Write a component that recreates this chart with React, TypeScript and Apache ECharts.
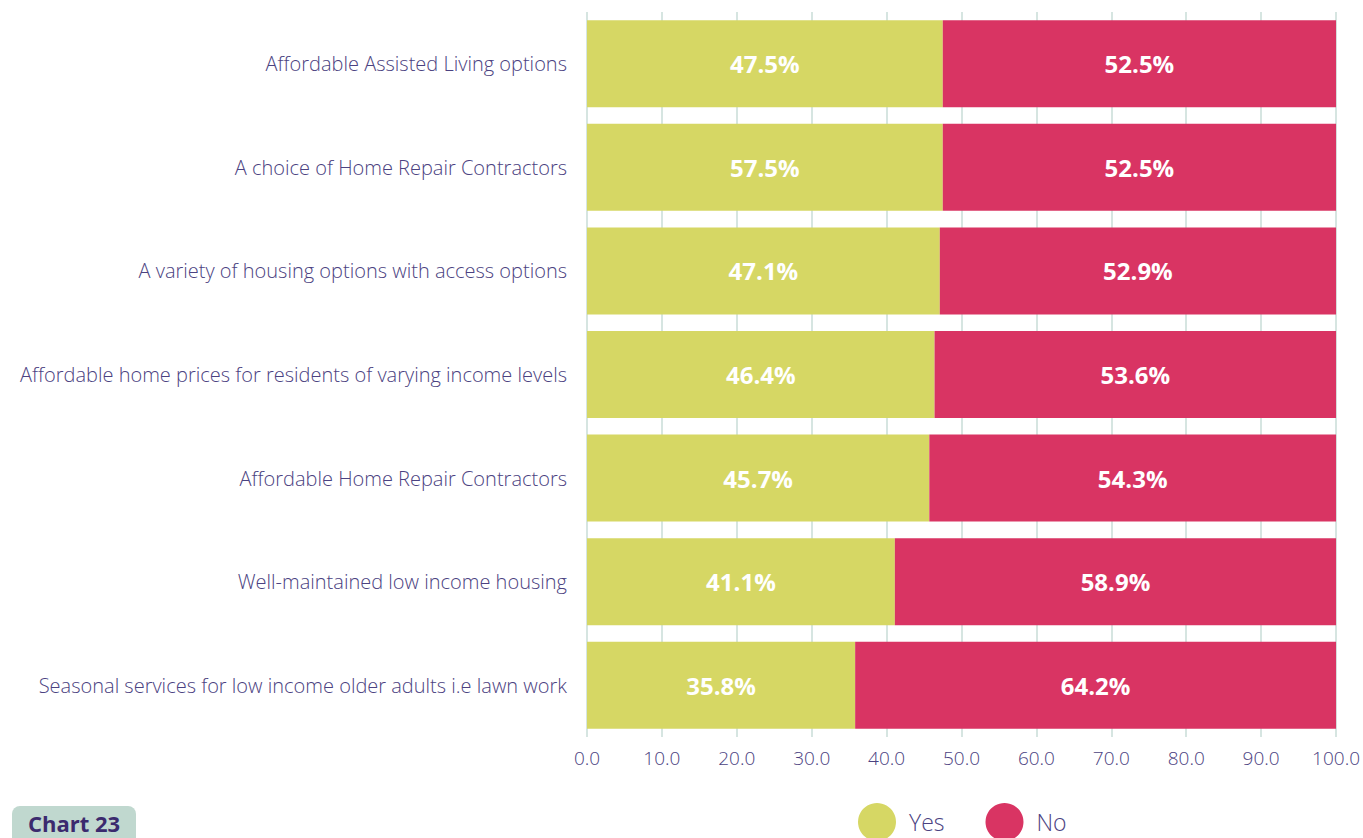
import React, { useEffect, useRef } from "react";
import * as echarts from "echarts";

const categories = [
  "Affordable Assisted Living options",
  "A choice of Home Repair Contractors",
  "A variety of housing options with access options",
  "Affordable home prices for residents of varying income levels",
  "Affordable Home Repair Contractors",
  "Well-maintained low income housing",
  "Seasonal services for low income older adults i.e lawn work",
];
const yesValues = [47.5, 47.5, 47.1, 46.4, 45.7, 41.1, 35.8];
const noValues = [52.5, 52.5, 52.9, 53.6, 54.3, 58.9, 64.2];
const yesLabels = ["47.5%", "57.5%", "47.1%", "46.4%", "45.7%", "41.1%", "35.8%"];
const noLabels = ["52.5%", "52.5%", "52.9%", "53.6%", "54.3%", "58.9%", "64.2%"];
const xTicks = [0, 10, 20, 30, 40, 50, 60, 70, 80, 90, 100];

const TEXT = "#4b4281";
const FONT = "'Open Sans', 'Noto Sans', sans-serif";

export default function App() {
  const ref = useRef<HTMLDivElement>(null);
  useEffect(() => {
    if (!ref.current) return;
    const chart = echarts.init(ref.current, undefined, { renderer: "svg" });
    chart.setOption({
      animation: false,
      textStyle: { fontFamily: FONT },
      grid: { left: 587, right: 22, top: 12, bottom: 101, containLabel: false },
      legend: {
        data: ["Yes", "No"],
        left: 858,
        top: 803,
        padding: 0,
        icon: "circle",
        itemWidth: 38,
        itemHeight: 38,
        itemGap: 41,
        textStyle: {
          color: TEXT,
          fontSize: 23,
          lineHeight: 22,
          fontWeight: 300,
          fontFamily: FONT,
          padding: [0, 0, 0, 8],
        },
      },
      xAxis: {
        type: "value",
        min: 0,
        max: xTicks[xTicks.length - 1],
        interval: 10,
        axisLine: { show: false },
        axisTick: { show: false },
        splitLine: { show: true, lineStyle: { color: "#c8dcd7", width: 1.5 } },
        axisLabel: {
          color: TEXT,
          fontSize: 19,
          fontWeight: 300,
          fontFamily: FONT,
          margin: 11,
          formatter: (v: number) => v.toFixed(1),
        },
      },
      yAxis: {
        type: "category",
        inverse: true,
        data: categories,
        axisLine: { show: false },
        axisTick: { show: false },
        axisLabel: { color: TEXT, fontSize: 20, fontWeight: 300, fontFamily: FONT, margin: 20 },
      },
      series: [
        {
          name: "Yes",
          type: "bar",
          stack: "total",
          data: yesValues,
          barCategoryGap: "16%",
          itemStyle: { color: "#d6d764" },
          label: {
            show: true,
            position: "inside",
            color: "#ffffff",
            fontSize: 24,
            fontWeight: "bold",
            fontFamily: FONT,
            formatter: (p: any) => yesLabels[p.dataIndex],
          },
        },
        {
          name: "No",
          type: "bar",
          stack: "total",
          data: noValues,
          barCategoryGap: "16%",
          itemStyle: { color: "#d93463" },
          label: {
            show: true,
            position: "inside",
            color: "#ffffff",
            fontSize: 24,
            fontWeight: "bold",
            fontFamily: FONT,
            formatter: (p: any) => noLabels[p.dataIndex],
          },
        },
      ],
      graphic: [
        {
          type: "group",
          left: 12,
          top: 806,
          children: [
            {
              type: "rect",
              shape: { x: 0, y: 0, width: 124, height: 44, r: 8 },
              style: { fill: "#c0d8cf" },
            },
            {
              type: "text",
              x: 62,
              y: 17,
              style: {
                text: "Chart 23",
                fill: "#3b2a6e",
                font: `bold 22px ${FONT}`,
                align: "center",
                verticalAlign: "middle",
              },
            },
          ],
        },
      ],
    });
    return () => chart.dispose();
  }, []);
  return (
    <div
      ref={ref}
      style={{ position: "absolute", left: 0, top: 0, width: 1363, height: 838 }}
    />
  );
}
